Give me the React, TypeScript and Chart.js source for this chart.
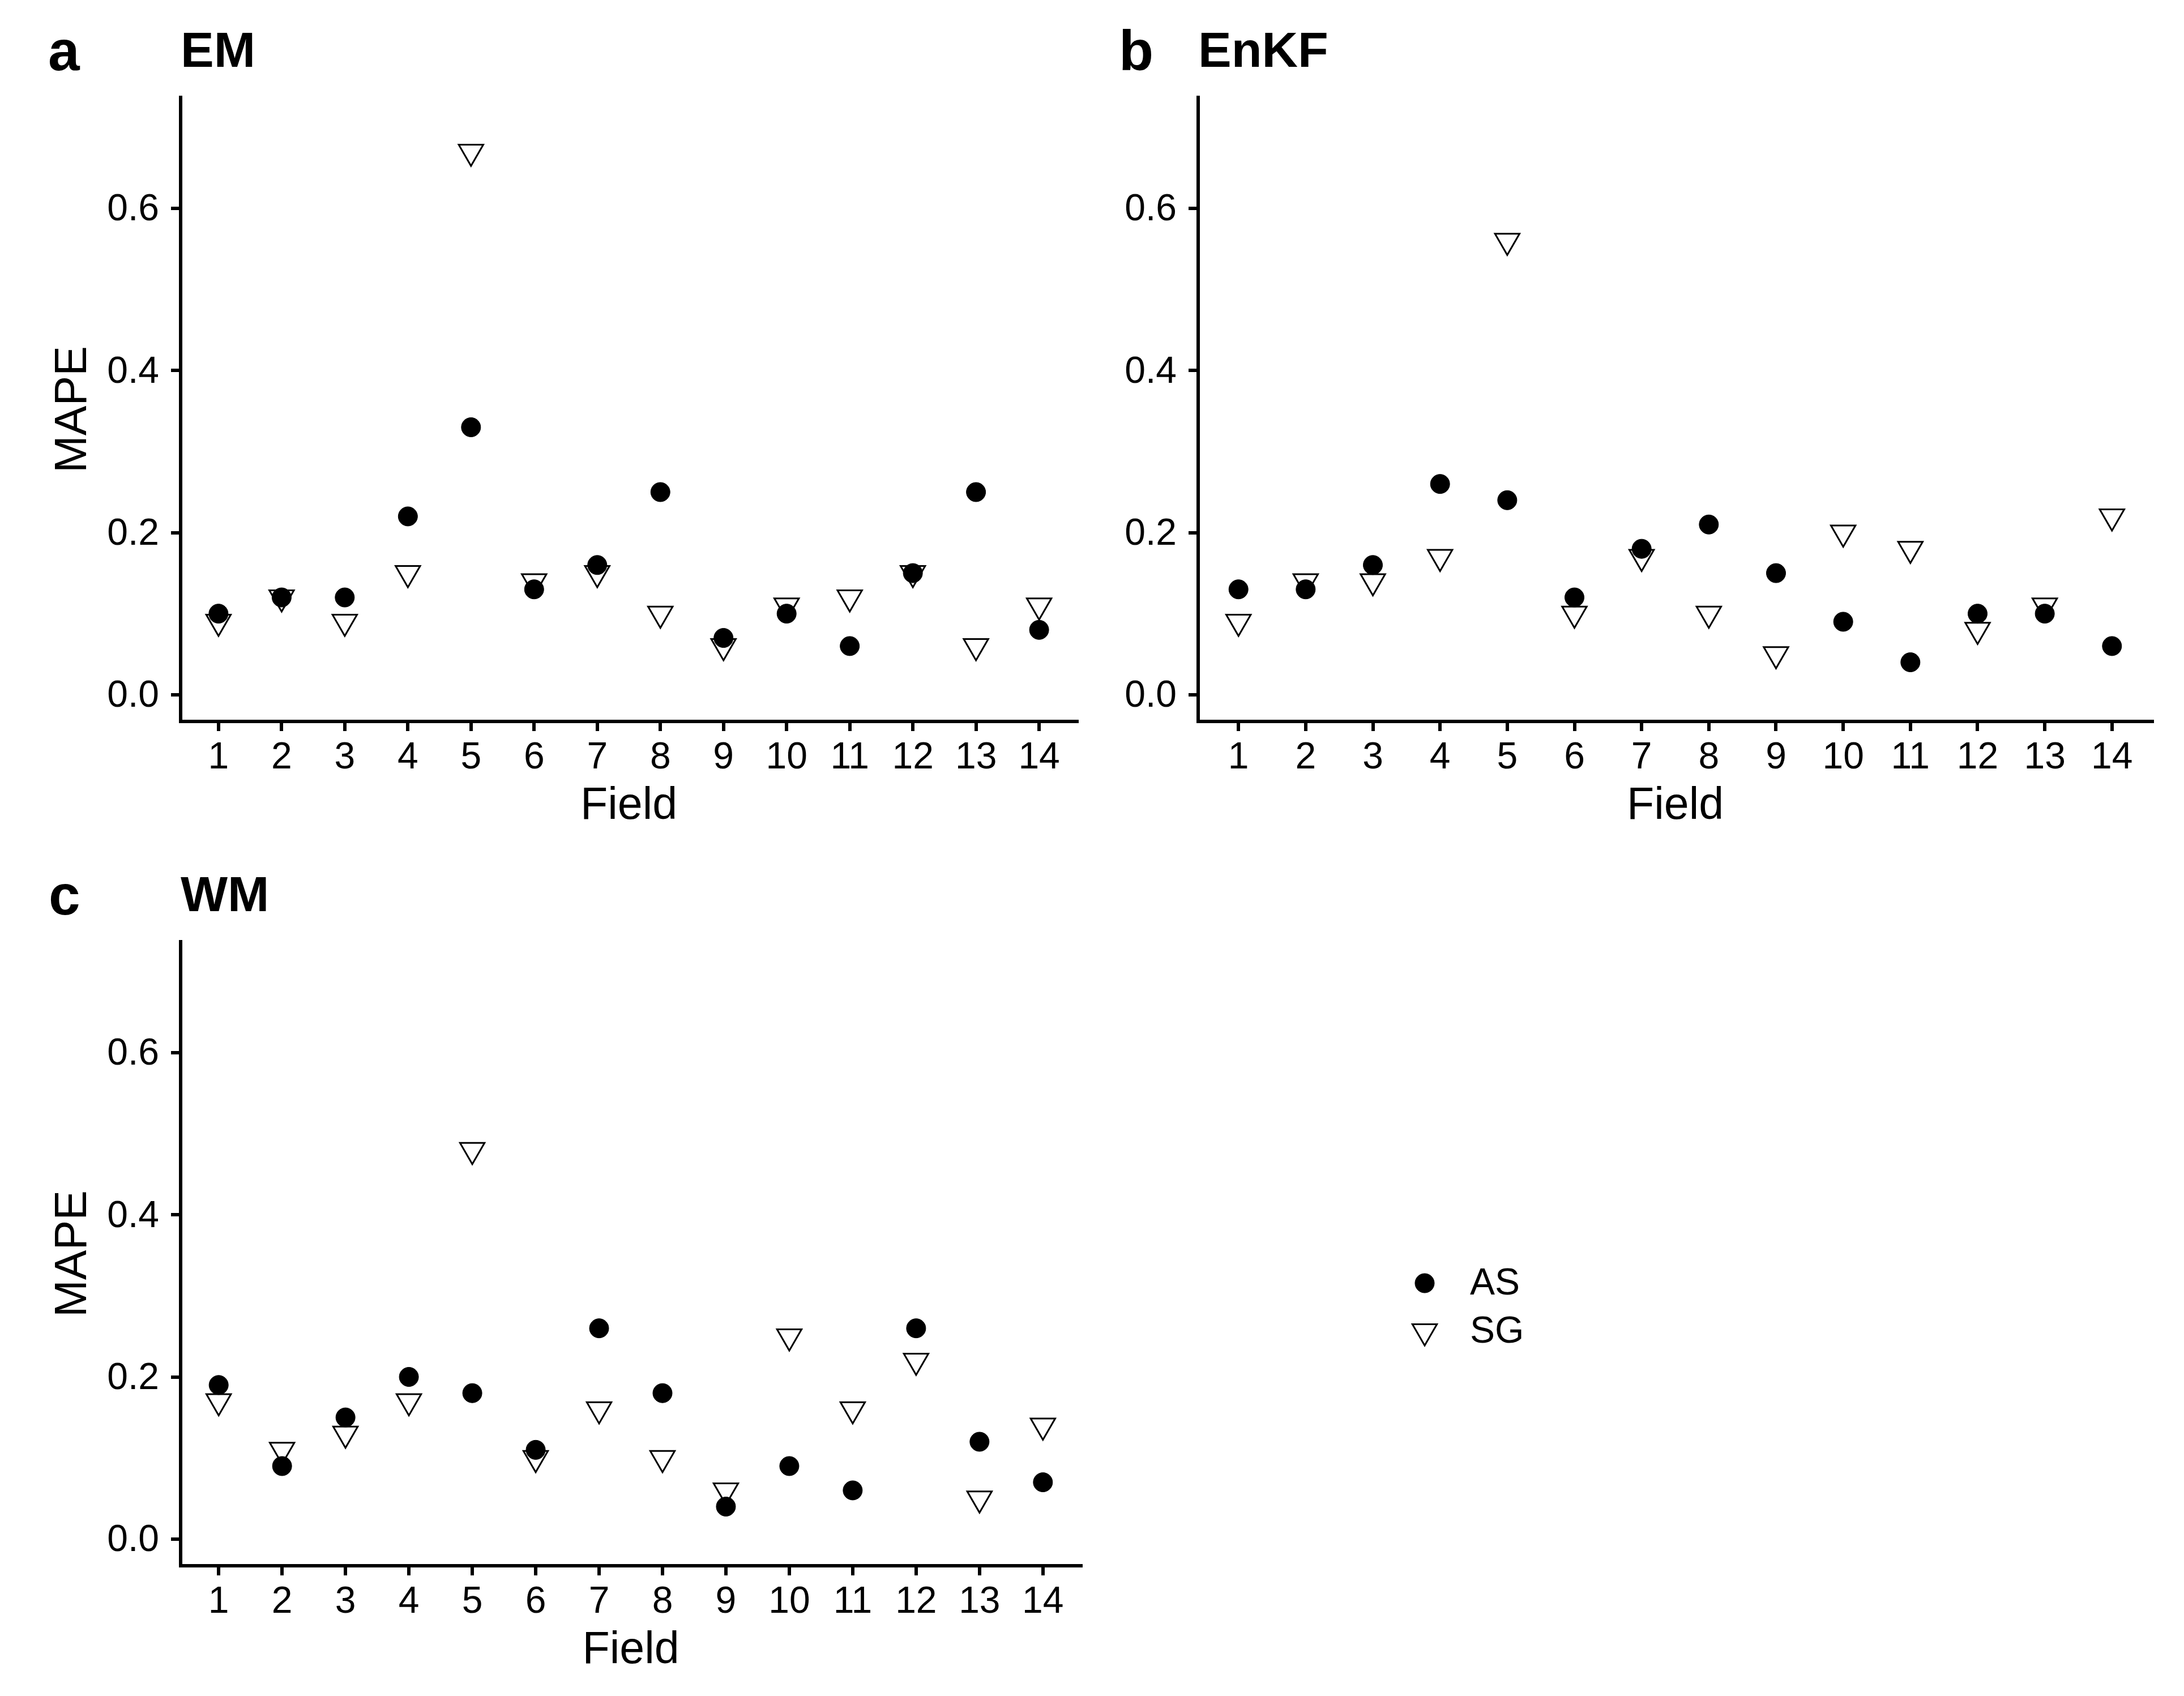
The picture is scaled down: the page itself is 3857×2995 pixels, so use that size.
import React, { useEffect, useRef } from 'react';
import { Chart, registerables } from 'chart.js';
import { drawPoint } from 'chart.js/helpers';

Chart.register(...registerables);

const FONT = "'Liberation Sans', Arial, Helvetica, sans-serif";

// ---- data ----
const fields = [1, 2, 3, 4, 5, 6, 7, 8, 9, 10, 11, 12, 13, 14];
const yTickValues = [0, 0.2, 0.4, 0.6];
const seriesNames = ['AS', 'SG'];

const emAS = [0.10, 0.12, 0.12, 0.22, 0.33, 0.13, 0.16, 0.25, 0.07, 0.10, 0.06, 0.15, 0.25, 0.08];
const emSG = [0.09, 0.12, 0.09, 0.15, 0.67, 0.14, 0.15, 0.10, 0.06, 0.11, 0.12, 0.15, 0.06, 0.11];
const enkfAS = [0.13, 0.13, 0.16, 0.26, 0.24, 0.12, 0.18, 0.21, 0.15, 0.09, 0.04, 0.10, 0.10, 0.06];
const enkfSG = [0.09, 0.14, 0.14, 0.17, 0.56, 0.10, 0.17, 0.10, 0.05, 0.20, 0.18, 0.08, 0.11, 0.22];
const wmAS = [0.19, 0.09, 0.15, 0.20, 0.18, 0.11, 0.26, 0.18, 0.04, 0.09, 0.06, 0.26, 0.12, 0.07];
const wmSG = [0.17, 0.11, 0.13, 0.17, 0.48, 0.10, 0.16, 0.10, 0.06, 0.25, 0.16, 0.22, 0.05, 0.14];

const CIRCLE_R = 17;
const TRI_R = 25;

const panelTextPlugin = {
  id: 'panelText',
  afterDraw(chart: any, _args: any, opts: any) {
    const ctx = chart.ctx as CanvasRenderingContext2D;
    ctx.save();
    ctx.fillStyle = '#000';
    ctx.textAlign = 'left';
    ctx.textBaseline = 'alphabetic';
    ctx.font = `bold 100px ${FONT}`;
    ctx.fillText(opts.tag, opts.tagX, opts.tagY);
    ctx.font = `bold 88px ${FONT}`;
    ctx.fillText(opts.title, chart.chartArea.left, opts.titleY);
    if (opts.legend) {
      const lx = opts.legendX;
      const y1 = opts.legendY1;
      const y2 = opts.legendY2;
      ctx.fillStyle = '#000';
      ctx.strokeStyle = '#000';
      ctx.lineWidth = 1;
      drawPoint(ctx, { pointStyle: 'circle', radius: CIRCLE_R, borderWidth: 1, rotation: 0 } as any, lx, y1);
      ctx.fillStyle = 'rgba(0,0,0,0)';
      ctx.lineWidth = 3;
      drawPoint(ctx, { pointStyle: 'triangle', radius: TRI_R, borderWidth: 3, rotation: 180 } as any, lx, y2 + 2);
      ctx.fillStyle = '#000';
      ctx.font = `66px ${FONT}`;
      ctx.textBaseline = 'middle';
      ctx.fillText(seriesNames[0], opts.legendTextX, y1 + 2);
      ctx.fillText(seriesNames[1], opts.legendTextX, y2 + 4);
    }
    ctx.restore();
  },
};

type PanelProps = {
  left: number;
  top: number;
  width: number;
  height: number;
  as: number[];
  sg: number[];
  tag: string;
  title: string;
  tagX: number;
  yAxisWidth: number;
  padRight: number;
  showYTitle: boolean;
  legend?: boolean;
};

function Panel(p: PanelProps) {
  const ref = useRef<HTMLCanvasElement>(null);
  useEffect(() => {
    const gridOpts = {
      display: true,
      drawOnChartArea: false,
      drawTicks: true,
      tickLength: 17,
      tickWidth: 6,
      tickColor: '#000',
      color: '#000',
      lineWidth: 6,
    };
    const borderOpts = { display: true, width: 6, color: '#000' };
    const chart = new Chart(ref.current as HTMLCanvasElement, {
      type: 'scatter',
      data: {
        datasets: [
          {
            label: seriesNames[0],
            data: fields.map((f, i) => ({ x: f, y: p.as[i] })),
            pointStyle: 'circle',
            pointRadius: CIRCLE_R,
            pointBackgroundColor: '#000',
            pointBorderColor: '#000',
            pointBorderWidth: 1,
          },
          {
            label: seriesNames[1],
            data: fields.map((f, i) => ({ x: f, y: p.sg[i] })),
            pointStyle: 'triangle',
            pointRotation: 180,
            pointRadius: TRI_R,
            pointBackgroundColor: 'rgba(0,0,0,0)',
            pointBorderColor: '#000',
            pointBorderWidth: 3,
          },
        ],
      },
      options: {
        responsive: false,
        animation: false,
        devicePixelRatio: 1,
        events: [],
        layout: { padding: { top: 172, right: p.padRight, bottom: 0, left: 0 } },
        plugins: {
          legend: { display: false },
          tooltip: { enabled: false },
          panelText: {
            tag: p.tag,
            tagX: p.tagX,
            tagY: 124,
            title: p.title,
            titleY: 118,
            legend: !!p.legend,
            legendX: 2516,
            legendY1: 775,
            legendY2: 858,
            legendTextX: 2596,
          },
        } as any,
        scales: {
          x: {
            type: 'linear',
            min: 0.4,
            max: 14.6,
            bounds: 'data',
            afterBuildTicks: (s: any) => {
              s.ticks = fields.map((v) => ({ value: v }));
            },
            afterFit: (s: any) => {
              s.height = 206;
            },
            ticks: {
              callback: (v: any) => String(v),
              font: { size: 66, family: FONT },
              color: '#000',
              padding: 8,
              autoSkip: false,
              maxRotation: 0,
            },
            grid: gridOpts,
            border: borderOpts,
            title: {
              display: true,
              text: 'Field',
              font: { size: 79, family: FONT },
              color: '#000',
              padding: { top: 0, bottom: 8 },
            },
          },
          y: {
            type: 'linear',
            min: -0.033,
            max: 0.737,
            bounds: 'data',
            afterBuildTicks: (s: any) => {
              s.ticks = yTickValues.map((v) => ({ value: v }));
            },
            afterFit: (s: any) => {
              s.width = p.yAxisWidth;
            },
            ticks: {
              callback: (v: any) => Number(v).toFixed(1),
              font: { size: 66, family: FONT },
              color: '#000',
              padding: 21,
              labelOffset: 3,
            },
            grid: gridOpts,
            border: borderOpts,
            title: {
              display: p.showYTitle,
              text: 'MAPE',
              font: { size: 79, family: FONT },
              color: '#000',
              padding: { top: 83, bottom: 0 },
            },
          },
        } as any,
      },
      plugins: [panelTextPlugin],
    } as any);
    return () => chart.destroy();
  }, []);
  return (
    <canvas
      ref={ref}
      width={p.width}
      height={p.height}
      style={{ position: 'absolute', left: p.left, top: p.top, width: p.width, height: p.height }}
    />
  );
}

export default function App() {
  Chart.defaults.font.family = FONT;
  Chart.defaults.color = '#000';
  return (
    <div
      style={{
        position: 'absolute',
        left: 0,
        top: 0,
        width: 3857,
        height: 2995,
        background: '#fff',
        overflow: 'hidden',
      }}
    >
      <Panel left={0} top={0} width={1930} height={1480} as={emAS} sg={emSG} tag="a" title="EM" tagX={85} yAxisWidth={319} padRight={21} showYTitle />
      <Panel left={1930} top={0} width={1927} height={1480} as={enkfAS} sg={enkfSG} tag="b" title="EnKF" tagX={46} yAxisWidth={186} padRight={56} showYTitle={false} />
      <Panel left={0} top={1491} width={2800} height={1480} as={wmAS} sg={wmSG} tag="c" title="WM" tagX={86} yAxisWidth={319} padRight={891} showYTitle legend />
    </div>
  );
}
